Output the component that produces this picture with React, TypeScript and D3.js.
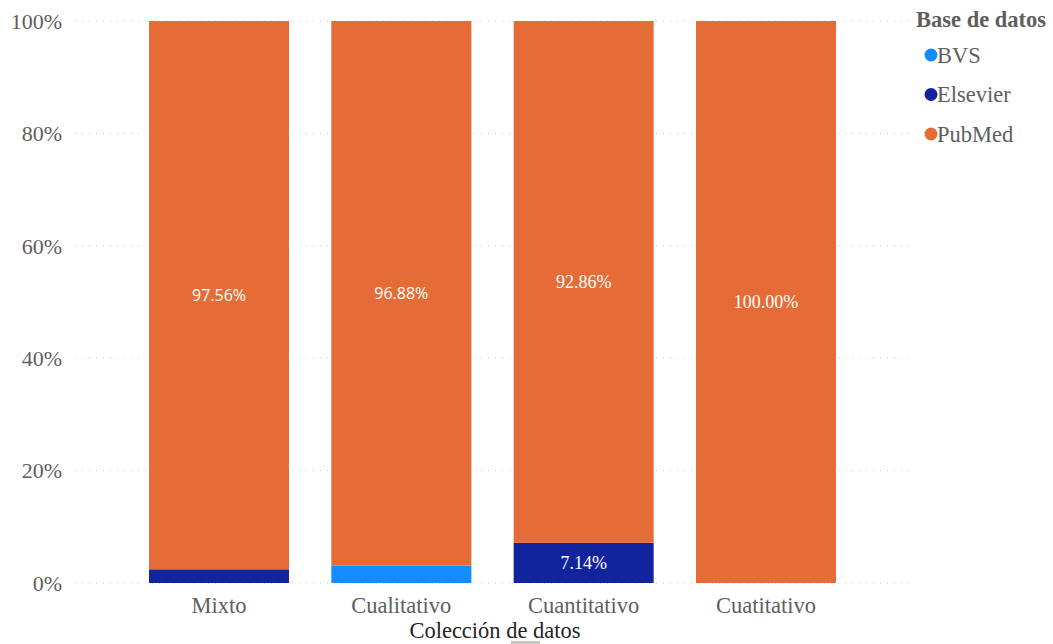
import React, { useRef, useEffect } from 'react';
import * as d3 from 'd3';

const categories = ['Mixto', 'Cualitativo', 'Cuantitativo', 'Cuatitativo'];
const series = ['BVS', 'Elsevier', 'PubMed'];
const bvs = [0, 3.12, 0, 0];
const elsevier = [2.44, 0, 7.14, 0];
const pubmed = [97.56, 96.88, 92.86, 100];
const yTicks = [0, 20, 40, 60, 80, 100];
// labels the source shows per segment (the small ones are hidden)
const shownLabels: Record<string, boolean[]> = {
  BVS: [false, false, false, false],
  Elsevier: [false, false, true, false],
  PubMed: [true, true, true, true],
};

const colors: Record<string, string> = {
  BVS: '#118DFF',
  Elsevier: '#12239E',
  PubMed: '#E66C37',
};

const App: React.FC = () => {
  const svgRef = useRef<SVGSVGElement>(null);

  useEffect(() => {
    if (!svgRef.current) return;
    const width = 1053;
    const height = 644;
    const serif = '"Liberation Serif", "Times New Roman", serif';
    const sans = '"Open Sans", "Noto Sans", sans-serif';

    const svg = d3.select(svgRef.current)
      .attr('width', width)
      .attr('height', height)
      .attr('viewBox', [0, 0, width, height]);
    svg.selectAll('*').remove();

    const rows = categories.map((c, i) => ({
      cat: c,
      BVS: bvs[i],
      Elsevier: elsevier[i],
      PubMed: pubmed[i],
    }));

    const x = d3.scaleBand<string>()
      .domain(categories)
      .range([75, 910])
      .paddingInner(0.232)
      .paddingOuter(0.406);

    const y = d3.scaleLinear().domain([0, 100]).range([583, 21]);

    // gridlines
    svg.append('g')
      .selectAll('line')
      .data(yTicks)
      .join('line')
      .attr('x1', 75)
      .attr('x2', 910)
      .attr('y1', d => y(d))
      .attr('y2', d => y(d))
      .attr('stroke', '#c8c8c8')
      .attr('stroke-width', 1)
      .attr('stroke-dasharray', '1 6');

    // y tick labels
    svg.append('g')
      .selectAll('text')
      .data(yTicks)
      .join('text')
      .attr('x', 62)
      .attr('y', d => y(d))
      .attr('dy', '0.35em')
      .attr('text-anchor', 'end')
      .attr('fill', '#605E5C')
      .style('font-family', serif)
      .style('font-size', '22px')
      .text(d => `${d}%`);

    const stacked = d3.stack<any>().keys(series)(rows);

    const layers = svg.append('g')
      .selectAll('g')
      .data(stacked)
      .join('g')
      .attr('fill', d => colors[d.key]);

    layers.selectAll('rect')
      .data(d => d.filter(p => p[1] - p[0] > 0))
      .join('rect')
      .attr('x', (d: any) => x(d.data.cat)!)
      .attr('width', x.bandwidth())
      .attr('y', d => y(d[1]))
      .attr('height', d => y(d[0]) - y(d[1]));

    // data labels
    const labelG = svg.append('g');
    stacked.forEach(layer => {
      layer.forEach((p, i) => {
        if (!shownLabels[layer.key][i]) return;
        const v = p[1] - p[0];
        labelG.append('text')
          .attr('x', x(categories[i])! + x.bandwidth() / 2)
          .attr('y', y((p[0] + p[1]) / 2))
          .attr('dy', '0.35em')
          .attr('text-anchor', 'middle')
          .attr('fill', '#ffffff')
          .style('font-family', i < 2 ? sans : serif)
          .style('font-size', i < 2 ? '16px' : '18px')
          .text(`${v.toFixed(2)}%`);
      });
    });

    // x tick labels
    svg.append('g')
      .selectAll('text')
      .data(categories)
      .join('text')
      .attr('x', d => x(d)! + x.bandwidth() / 2)
      .attr('y', 605)
      .attr('dy', '0.35em')
      .attr('text-anchor', 'middle')
      .attr('fill', '#605E5C')
      .style('font-family', serif)
      .style('font-size', '22.5px')
      .text(d => d);

    // x title
    svg.append('text')
      .attr('x', 495)
      .attr('y', 630)
      .attr('dy', '0.35em')
      .attr('text-anchor', 'middle')
      .attr('fill', '#252423')
      .style('font-family', serif)
      .style('font-size', '22.5px')
      .text('Colección de datos');

    svg.append('rect')
      .attr('x', 511)
      .attr('y', 641)
      .attr('width', 29)
      .attr('height', 3)
      .attr('fill', '#c8c6c4');

    // legend
    const legend = svg.append('g');
    legend.append('text')
      .attr('x', 916)
      .attr('y', 19)
      .attr('dy', '0.35em')
      .attr('fill', '#605E5C')
      .style('font-family', serif)
      .style('font-size', '22.5px')
      .style('font-weight', 'bold')
      .text('Base de datos');

    const item = legend.selectAll('g.item')
      .data(series)
      .join('g')
      .attr('class', 'item')
      .attr('transform', (d, i) => `translate(0, ${55 + i * 39.5})`);
    item.append('circle')
      .attr('cx', 931)
      .attr('cy', 0)
      .attr('r', 6.5)
      .attr('fill', d => colors[d]);
    item.append('text')
      .attr('x', 937)
      .attr('y', 0)
      .attr('dy', '0.35em')
      .attr('fill', '#605E5C')
      .style('font-family', serif)
      .style('font-size', '22.5px')
      .text(d => d);
  }, []);

  return (
    <div style={{ position: 'absolute', left: 0, top: 0 }}>
      <svg ref={svgRef}></svg>
    </div>
  );
};

export default App;
